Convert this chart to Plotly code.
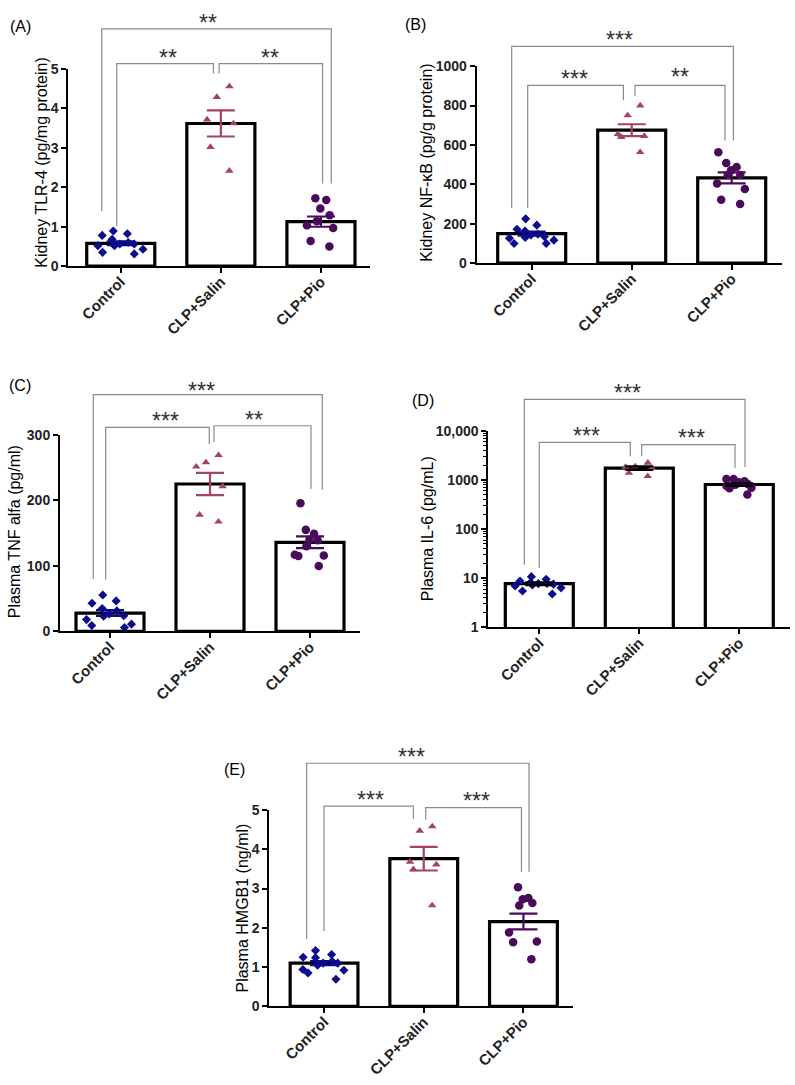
import math
import plotly.graph_objects as go

FONT = "Arial, 'Liberation Sans', sans-serif"
W, H = 795, 1085

groups = ["Control", "CLP+Salin", "CLP+Pio"]

# ---------------- data ----------------
# (A) Kidney TLR-4 (pg/mg protein)
a_control = [0.89, 0.78, 0.82, 0.52, 0.43, 0.31, 0.35, 0.60, 0.56, 0.52, 0.68, 0.56]
a_salin = [4.56, 4.29, 3.62, 3.72, 3.02, 2.42]
a_pio = [1.72, 1.68, 1.46, 1.29, 1.14, 0.97, 1.04, 0.64, 0.50]
a_means = [0.58, 3.62, 1.13]
a_sems = [0.05, 0.33, 0.13]

# (B) Kidney NF-kB (pg/g protein)
b_control = [225, 193, 143, 163, 127, 117, 100, 100, 147, 130, 172, 135]
b_salin = [800, 750, 640, 645, 655, 563]
b_pio = [563, 472, 508, 488, 447, 447, 405, 377, 322, 300]
b_means = [150, 675, 433]
b_sems = [10, 30, 28]

# (C) Plasma TNF alfa (pg/ml)
c_control = [55.5, 43, 46.5, 31.5, 35, 23, 24, 11, 6, 9, 18, 26.5]
c_salin = [269, 258, 251.5, 221.5, 178, 167.5]
c_pio = [195.5, 155, 149, 140, 139, 130, 117, 116, 115, 100]
c_means = [28, 225, 136]
c_sems = [4.5, 17, 9]

# (D) Plasma IL-6 (pg/mL), log scale
d_control = [10.8, 7.8, 7.0, 7.3, 8.8, 5.5, 4.8, 8.2, 9.6, 7.6, 7.9, 6.4]
d_salin = [1850, 2250, 1750, 1200, 1400, 1900]
d_pio = [760, 1050, 950, 900, 1050, 800, 680, 510, 830, 700]
d_means = [7.8, 1755, 813]
d_sems = [0.5, 150, 50]

# (E) Plasma HMGB1 (ng/ml)
e_control = [1.25, 1.15, 1.42, 1.32, 1.24, 1.10, 1.05, 0.92, 0.85, 0.94, 0.69, 1.10]
e_salin = [4.47, 4.58, 3.61, 3.68, 3.49, 2.57]
e_pio = [3.03, 2.76, 2.73, 2.63, 2.57, 1.88, 1.63, 1.65, 1.20]
e_means = [1.10, 3.76, 2.16]
e_sems = [0.05, 0.30, 0.20]

d_ticks = [1, 10, 100, 1000, 10000]
d_ticktext = ["1", "10", "100", "1000", "10,000"]

# ---------------- styling / layout configuration ----------------
colors = ["#0b0b8c", "#a3426b", "#4a0a5c"]
symbols = ["diamond", "triangle-up", "circle"]
msizes = [7, 7.5, 8.5]
jitters = [0.86, 0.49, 0.55]

# significance brackets: (x0, x1, y_top, y_leg_left, y_leg_right, stars, star_x, star_y)
A_BR = [(-0.19, 2.103, 6.02, 1.39, 2.10, "**", 0.876, 6.33),
        (-0.04, 0.926, 5.14, 1.02, 4.89, "**", 0.476, 5.43),
        (0.983, 2.016, 5.14, 4.89, 2.10, "**", 1.486, 5.43)]
B_BR = [(-0.20, 2.017, 1100, 280, 622, "***", 0.873, 1163),
        (-0.04, 0.917, 902, 280, 827, "***", 0.433, 963),
        (1.033, 1.933, 902, 850, 622, "**", 1.483, 975)]
C_BR = [(-0.167, 2.123, 361.5, 80, 216.5, "***", 0.917, 376.5),
        (-0.043, 0.993, 311.5, 79, 286.5, "***", 0.55, 330),
        (1.04, 2.01, 314, 289, 217.5, "**", 1.44, 332.5)]
D_BR = [(-0.15, 2.057, 10**4.642, 10**1.278, 10**3.264, "***", 0.884, 10**4.89),
        (0.0, 0.91, 10**3.766, 10**1.21, 10**3.485, "***", 0.474, 10**4.02),
        (1.024, 1.957, 10**3.72, 10**3.485, 10**3.25, "***", 1.524, 10**3.97)]
E_BR = [(-0.174, 2.056, 6.19, 1.71, 3.43, "***", 0.88, 6.5),
        (0.0, 0.896, 5.10, 1.92, 4.77, "***", 0.468, 5.41),
        (1.02, 1.98, 5.06, 4.75, 3.43, "***", 1.525, 5.37)]


def px_dom(p0, p1, total):
    return [p0 / total, p1 / total]


def py_dom(top, bottom):
    return [1 - bottom / H, 1 - top / H]


panels = [
    dict(label="(A)", lab_xy=(20, 19), title="Kidney TLR-4 (pg/mg protein)", title_xy=(42, 157),
         vals=[a_control, a_salin, a_pio], means=a_means, sems=a_sems,
         xdom=px_dom(68.3, 370, W), ydom=py_dom(62, 262), xr=[-0.524, 2.49], yr=[0, 5],
         log=False, dtick=1, br=A_BR, errc=colors),
    dict(label="(B)", lab_xy=(415, 17), title="Kidney NF-\u03baB (pg/g protein)", title_xy=(427, 157),
         vals=[b_control, b_salin, b_pio], means=b_means, sems=b_sems,
         xdom=px_dom(476.7, 781.7, W), ydom=py_dom(59, 259), xr=[-0.55, 2.5], yr=[0, 1000],
         log=False, dtick=200, br=B_BR, errc=colors),
    dict(label="(C)", lab_xy=(20, 383), title="Plasma TNF alfa (pg/ml)", title_xy=(14, 532),
         vals=[c_control, c_salin, c_pio], means=c_means, sems=c_sems,
         xdom=px_dom(60, 360, W), ydom=py_dom(433.3, 632.7), xr=[-0.5, 2.5], yr=[0, 300],
         log=False, dtick=100, br=C_BR, errc=colors),
    dict(label="(D)", lab_xy=(423, 398), title="Plasma IL-6 (pg/mL)", title_xy=(427, 529),
         vals=[d_control, d_salin, d_pio], means=d_means, sems=d_sems,
         xdom=px_dom(488.3, 790, W), ydom=py_dom(429.3, 628.7), xr=[-0.51, 2.507], yr=[0, 4],
         log=True, dtick=None, br=D_BR, errc=["black", "black", "black"]),
    dict(label="(E)", lab_xy=(234, 773), title="Plasma HMGB1 (ng/ml)", title_xy=(243, 914),
         vals=[e_control, e_salin, e_pio], means=e_means, sems=e_sems,
         xdom=px_dom(269.3, 573.3, W), ydom=py_dom(814, 1013.3), xr=[-0.549, 2.5], yr=[0, 5],
         log=False, dtick=1, br=E_BR, errc=colors),
]

fig = go.Figure()
shapes = []
annotations = []
layout = {}

for i, p in enumerate(panels):
    n = "" if i == 0 else str(i + 1)
    xa, ya = "x" + n, "y" + n
    cat = list(range(len(groups)))

    fig.add_trace(go.Bar(x=cat, y=p["means"], width=0.68, xaxis=xa, yaxis=ya,
                         marker=dict(color="white", line=dict(color="black", width=3.2)),
                         hoverinfo="skip"))
    for g, vals in enumerate(p["vals"]):
        fig.add_trace(go.Box(x=[cat[g]] * len(vals), y=vals, xaxis=xa, yaxis=ya,
                             boxpoints="all", pointpos=0, jitter=jitters[g],
                             fillcolor="rgba(0,0,0,0)", line=dict(width=0, color="rgba(0,0,0,0)"),
                             marker=dict(symbol=symbols[g], color=colors[g], size=msizes[g],
                                         line=dict(width=0)),
                             hoverinfo="skip"))
    for g in cat:
        fig.add_trace(go.Scatter(x=[cat[g]], y=[p["means"][g]], xaxis=xa, yaxis=ya, mode="markers",
                                 marker=dict(size=1, color="rgba(0,0,0,0)"),
                                 error_y=dict(type="data", array=[p["sems"][g]], color=p["errc"][g],
                                              thickness=2.2, width=14),
                                 hoverinfo="skip"))

    yax = dict(domain=p["ydom"], anchor=xa, showline=True, linecolor="black", linewidth=2,
               ticks="outside", ticklen=5, tickwidth=2, tickcolor="black", showgrid=False,
               zeroline=False, tickfont=dict(family=FONT, size=14, color="#222", weight="bold"),
               fixedrange=True)
    if p["log"]:
        minor_vals = [m * 10 ** e for e in range(4) for m in range(2, 10)]
        yax.update(type="log", range=p["yr"], tickmode="array", tickvals=d_ticks, ticktext=d_ticktext,
                   minor=dict(tickmode="array", tickvals=minor_vals, ticks="outside", ticklen=3,
                              tickwidth=1, tickcolor="black"))
    else:
        yax.update(range=p["yr"], dtick=p["dtick"], tick0=0)
    xax = dict(domain=p["xdom"], anchor=ya, range=p["xr"], showline=True, linecolor="black", linewidth=2,
               tickmode="array", tickvals=cat, ticktext=groups, tickangle=-45, ticklabelstandoff=-6,
               ticks="outside", ticklen=5, tickwidth=2, tickcolor="black", showgrid=False, zeroline=False,
               tickfont=dict(family=FONT, size=15, color="#222", weight="bold"), fixedrange=True)
    layout["xaxis" + n] = xax
    layout["yaxis" + n] = yax

    y0, y1 = p["yr"]

    def frac(v, y0=y0, y1=y1, log=p["log"]):
        if log:
            return (math.log10(v) - y0) / (y1 - y0)
        return (v - y0) / (y1 - y0)

    for (bx0, bx1, ytop, yl, yr_, stars, sx, sy) in p["br"]:
        pts = [(bx0, frac(yl)), (bx0, frac(ytop)), (bx1, frac(ytop)), (bx1, frac(yr_))]
        path = "M " + " L ".join(f"{x},{y}" for x, y in pts)
        shapes.append(dict(type="path", path=path, xref=xa, yref=ya + " domain",
                           line=dict(color="#8a8a8a", width=1.2)))
        annotations.append(dict(x=sx, y=frac(sy), xref=xa, yref=ya + " domain", text=stars,
                                showarrow=False, xanchor="center", yanchor="middle", yshift=-6,
                                font=dict(family=FONT, size=23, color="#333")))

    annotations.append(dict(x=p["lab_xy"][0] / W, y=1 - p["lab_xy"][1] / H, xref="paper", yref="paper",
                            text=p["label"], showarrow=False, xanchor="center", yanchor="middle",
                            font=dict(family=FONT, size=16, color="black")))
    annotations.append(dict(x=p["title_xy"][0] / W, y=1 - p["title_xy"][1] / H, xref="paper", yref="paper",
                            text=p["title"], showarrow=False, textangle=-90, xanchor="center",
                            yanchor="middle", font=dict(family=FONT, size=16, color="black")))

fig.update_layout(width=W, height=H, margin=dict(l=0, r=0, t=0, b=0), showlegend=False,
                  paper_bgcolor="white", plot_bgcolor="white", barmode="overlay", boxmode="overlay",
                  boxgap=0.05, shapes=shapes, annotations=annotations, **layout)

fig.write_html("out.html")
